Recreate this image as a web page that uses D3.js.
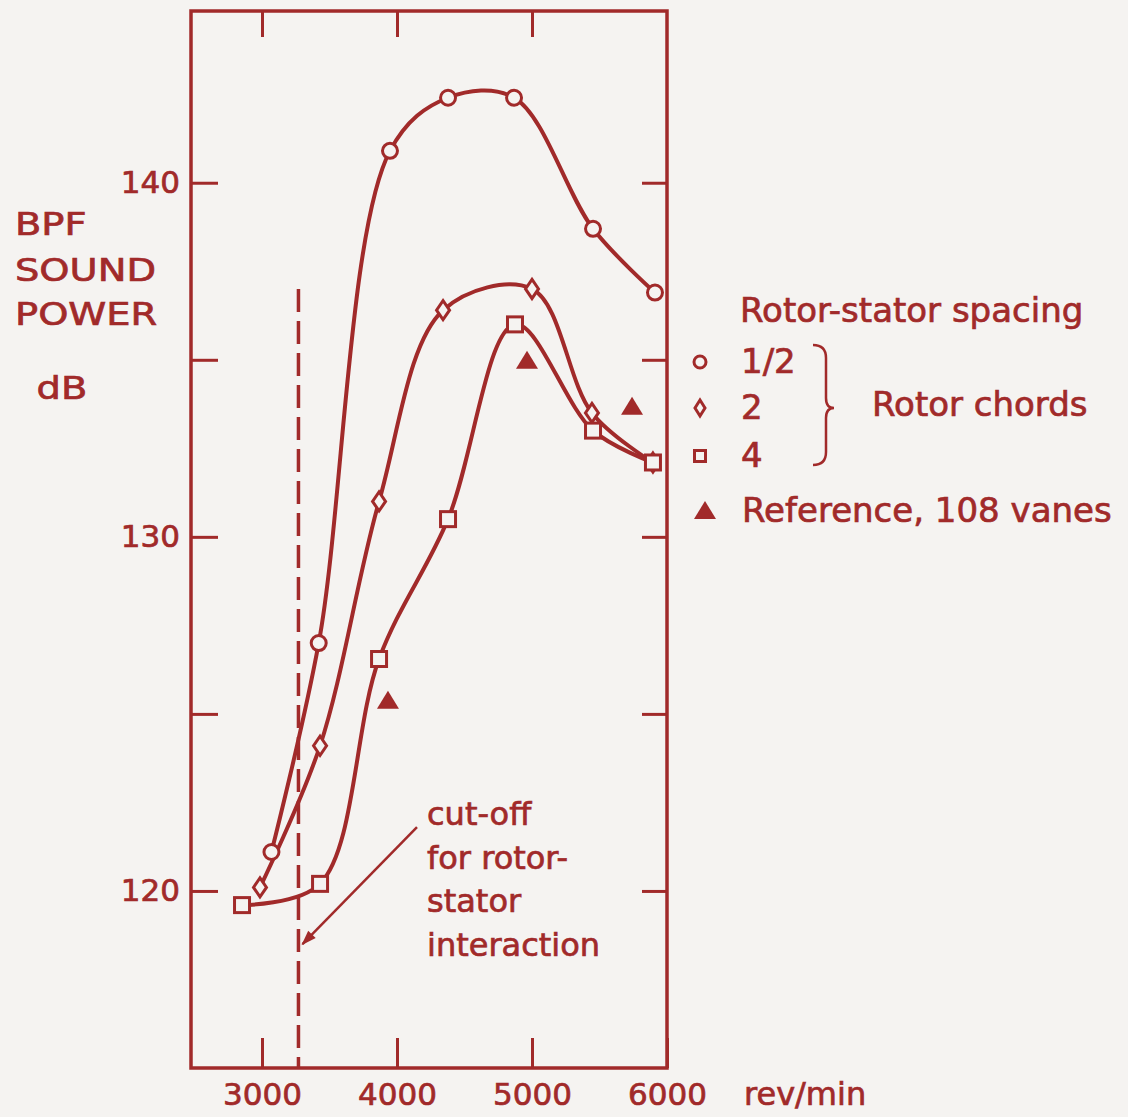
<!DOCTYPE html>
<html>
<head>
<meta charset="utf-8">
<script src="https://cdn.jsdelivr.net/npm/d3@7"></script>
<style>
  body { margin: 0; background: #f5f3f1; }
  svg { display: block; }
  text { font-family: "DejaVu Sans", sans-serif; fill: #a12a2a; stroke: #a12a2a; stroke-width: 0.7px; }
</style>
</head>
<body>
<div id="chart"></div>
<script>
// values
const halfRpm = [3070, 3420, 3948, 4378, 4867, 5452, 5911];
const halfDb  = [121.1, 127.0, 140.9, 142.4, 142.4, 138.7, 136.9];

const twoRpm = [2985, 3430, 3867, 4341, 5000, 5444, 5896];
const twoDb  = [120.1, 124.1, 131.0, 136.4, 137.0, 133.5, 132.1];

const fourRpm = [2852, 3430, 3867, 4378, 4874, 5452, 5896];
const fourDb  = [119.6, 120.2, 126.55, 130.5, 136.0, 133.0, 132.1];

const refRpm = [3933, 4963, 5741];
const refDb  = [125.4, 135.0, 133.7];

const xTicks = [3000, 4000, 5000, 6000];
const yTicks = [120, 125, 130, 135, 140];
const yLabels = [120, 130, 140];
const cutoffRpm = 3270;

const ink = "#a12a2a";
const paper = "#f5f3f1";

const width = 1128, height = 1117;

const svg = d3.select("#chart")
  .append("svg")
  .attr("width", width)
  .attr("height", height);

svg.append("rect").attr("width", width).attr("height", height).attr("fill", paper);

// scales
const xScale = d3.scaleLinear().domain([2474, 6000]).range([191, 667]);
const yScale = d3.scaleLinear().domain([115, 144.85]).range([1068, 11]);

const zip = (xs, ys) => xs.map((x, i) => ({rpm: x, db: ys[i]}));
const half = zip(halfRpm, halfDb);
const two = zip(twoRpm, twoDb);
const four = zip(fourRpm, fourDb);
const ref = zip(refRpm, refDb);

// axes, ticks pointing into the frame
function styleAxis(g) {
  g.select(".domain").remove();
  g.selectAll("line").attr("stroke", ink).attr("stroke-width", 3);
  g.selectAll("text").attr("fill", ink).style("font-size", "31px")
    .style("font-family", "DejaVu Sans, sans-serif");
}

svg.append("g")
  .attr("transform", "translate(" + xScale.range()[0] + ",0)")
  .call(d3.axisLeft(yScale).tickValues(yTicks).tickSize(-27).tickPadding(11)
    .tickFormat(d => yLabels.includes(d) ? d : ""))
  .call(styleAxis);

svg.append("g")
  .attr("transform", "translate(" + xScale.range()[1] + ",0)")
  .call(d3.axisRight(yScale).tickValues(yTicks).tickSize(-25).tickFormat(""))
  .call(styleAxis);

svg.append("g")
  .attr("transform", "translate(0," + yScale.range()[1] + ")")
  .call(d3.axisTop(xScale).tickValues(xTicks.slice(0, 3)).tickSize(-26).tickFormat(""))
  .call(styleAxis);

svg.append("g")
  .attr("transform", "translate(0," + yScale.range()[0] + ")")
  .call(d3.axisBottom(xScale).tickValues(xTicks).tickSize(-30).tickPadding(15)
    .tickFormat(d => d))
  .call(styleAxis);

// frame
svg.append("rect")
  .attr("x", xScale.range()[0])
  .attr("y", yScale.range()[1])
  .attr("width", xScale.range()[1] - xScale.range()[0])
  .attr("height", yScale.range()[0] - yScale.range()[1])
  .attr("fill", "none")
  .attr("stroke", ink)
  .attr("stroke-width", 3.5);

// cut-off line
svg.append("line")
  .attr("x1", xScale(cutoffRpm)).attr("x2", xScale(cutoffRpm))
  .attr("y1", yScale(137.0)).attr("y2", yScale.range()[0])
  .attr("stroke", ink)
  .attr("stroke-width", 3.5)
  .attr("stroke-dasharray", "23,9");

// curves
const line = d3.line()
  .curve(d3.curveCatmullRom.alpha(0.5))
  .x(d => xScale(d.rpm))
  .y(d => yScale(d.db));

[half, two, four].forEach(function(s) {
  svg.append("path")
    .datum(s)
    .attr("fill", "none")
    .attr("stroke", ink)
    .attr("stroke-width", 4)
    .attr("d", line);
});

// markers
function circleMark(g, r) {
  g.append("circle").attr("r", r).attr("fill", paper).attr("stroke", ink).attr("stroke-width", 3);
}
function diamondMark(g, w, h) {
  g.append("path").attr("d", "M0," + (-h) + "L" + w + ",0L0," + h + "L" + (-w) + ",0Z")
    .attr("fill", paper).attr("stroke", ink).attr("stroke-width", 3);
}
function squareMark(g, s) {
  g.append("rect").attr("x", -s / 2).attr("y", -s / 2).attr("width", s).attr("height", s)
    .attr("fill", paper).attr("stroke", ink).attr("stroke-width", 3);
}
function triangleMark(g, w, h) {
  g.append("path").attr("d", "M0," + (-h / 2) + "L" + (w / 2) + "," + (h / 2) + "L" + (-w / 2) + "," + (h / 2) + "Z")
    .attr("fill", ink);
}

function plotMarks(data, draw) {
  svg.append("g").selectAll("g")
    .data(data)
    .join("g")
    .attr("transform", d => "translate(" + xScale(d.rpm) + "," + yScale(d.db) + ")")
    .each(function() { draw(d3.select(this)); });
}

plotMarks(half, g => circleMark(g, 7.5));
plotMarks(two, g => diamondMark(g, 6.5, 9.5));
plotMarks(four, g => squareMark(g, 15));
plotMarks(ref, g => triangleMark(g, 22, 18));

// y axis title
const yTitle = svg.append("g").attr("transform", "translate(15,0) scale(1.2,1)");
yTitle.selectAll("text.t")
  .data(["BPF", "SOUND", "POWER"])
  .join("text")
  .attr("x", 0)
  .attr("y", (d, i) => [235, 281, 325][i])
  .style("font-size", "32px")
  .text(d => d);
yTitle.append("text").attr("x", 18).attr("y", 399).style("font-size", "32px").text("dB");

// x axis unit
svg.append("text")
  .attr("x", 744).attr("y", 1105)
  .style("font-size", "32px")
  .text("rev/min");

// annotation
const note = ["cut-off", "for rotor-", "stator", "interaction"];
svg.append("g").selectAll("text")
  .data(note)
  .join("text")
  .attr("x", 427)
  .attr("y", (d, i) => 825 + i * 43.5)
  .style("font-size", "32px")
  .text(d => d);

svg.append("defs").append("marker")
  .attr("id", "arrow")
  .attr("viewBox", "0 0 10 10")
  .attr("refX", 9).attr("refY", 5)
  .attr("markerWidth", 7).attr("markerHeight", 6)
  .attr("markerUnits", "strokeWidth")
  .attr("orient", "auto")
  .append("path")
  .attr("d", "M0,1.5L10,5L0,8.5Z")
  .attr("fill", ink);

svg.append("line")
  .attr("x1", xScale(4148)).attr("y1", yScale(121.8))
  .attr("x2", xScale(3300)).attr("y2", yScale(118.5))
  .attr("stroke", ink)
  .attr("stroke-width", 2.5)
  .attr("marker-end", "url(#arrow)");

// legend
const legend = svg.append("g");
legend.append("text").attr("x", 740).attr("y", 322).style("font-size", "34px").text("Rotor-stator spacing");

const legRows = [
  {label: "1/2", y: 362, draw: g => circleMark(g, 6)},
  {label: "2", y: 408, draw: g => diamondMark(g, 5, 8)},
  {label: "4", y: 456, draw: g => squareMark(g, 11)}
];
legRows.forEach(function(r) {
  const g = legend.append("g").attr("transform", "translate(700," + r.y + ")");
  r.draw(g);
  legend.append("text").attr("x", 741).attr("y", r.y + 11).style("font-size", "34px").text(r.label);
});

legend.append("path")
  .attr("d", "M813,345 Q826,345 826,358 L826,398 Q826,408 834,408 Q826,408 826,418 L826,452 Q826,465 813,465")
  .attr("fill", "none")
  .attr("stroke", ink)
  .attr("stroke-width", 2.5);

legend.append("text").attr("x", 872).attr("y", 416).style("font-size", "34px").text("Rotor chords");

const tg = legend.append("g").attr("transform", "translate(705,510)");
triangleMark(tg, 22, 18);
legend.append("text").attr("x", 742).attr("y", 522).style("font-size", "34px").text("Reference, 108 vanes");
</script>
</body>
</html>
